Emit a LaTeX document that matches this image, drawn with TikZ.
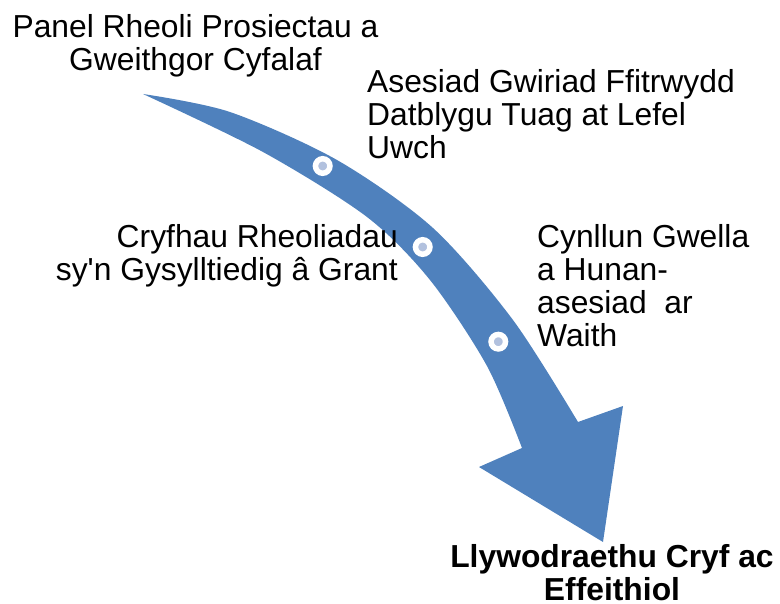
\documentclass[tikz,border=0pt]{standalone}
\usepackage{fontspec}
\setmainfont{Liberation Sans}[Ligatures=TeXOff]
\usepackage{xcolor}
\usepackage{tikz}

\definecolor{arrowblue}{RGB}{79,129,189}
\definecolor{dotblue}{RGB}{178,193,222}

\begin{document}
\begin{tikzpicture}[
    x=1pt, y=-1pt,
    stage/.style={inner sep=0pt, font=\fontsize{31.8}{33}\selectfont},
    goal/.style={inner sep=0pt, font=\fontsize{31.8}{33}\selectfont\bfseries, align=center},
    waypoint/.style={circle, fill=dotblue, draw=white, line width=5.5pt, minimum size=14.5pt, inner sep=0pt}
]
    \useasboundingbox (0,0) rectangle (780,604);

    % curved arrow
    \fill[arrowblue] plot[smooth] coordinates {(143,94) (230,112) (337,160) (433,228) (513,320) (578,422)}
        -- (623,406) -- (603,542) -- (479,467)
        -- plot[smooth] coordinates {(522,448) (487,366) (430,280) (367,217) (263,152) (143,94)} -- cycle;

    \node[waypoint] (dot1) at (322.7,166) {};
    \node[waypoint] (dot2) at (422.7,247) {};
    \node[waypoint] (dot3) at (498.3,341.7) {};

    \node[stage, align=center, anchor=north] (panel) at (195.5,14) {Panel Rheoli Prosiectau a\\Gweithgor Cyfalaf};
    \node[stage, align=left, anchor=north west] (asesiad) at (367,69) {Asesiad Gwiriad Ffitrwydd\\Datblygu Tuag at Lefel\\Uwch};
    \node[stage, align=right, anchor=north east] (cryfhau) at (398,224) {Cryfhau Rheoliadau\\sy'n Gysylltiedig â Grant};
    \node[stage, align=left, anchor=north west] (cynllun) at (537,224) {Cynllun Gwella\\a Hunan-\\asesiad\ \ ar\\Waith};
    \node[goal, anchor=north] (llywodraethu) at (612,544) {Llywodraethu Cryf ac\\Effeithiol};
\end{tikzpicture}
\end{document}
